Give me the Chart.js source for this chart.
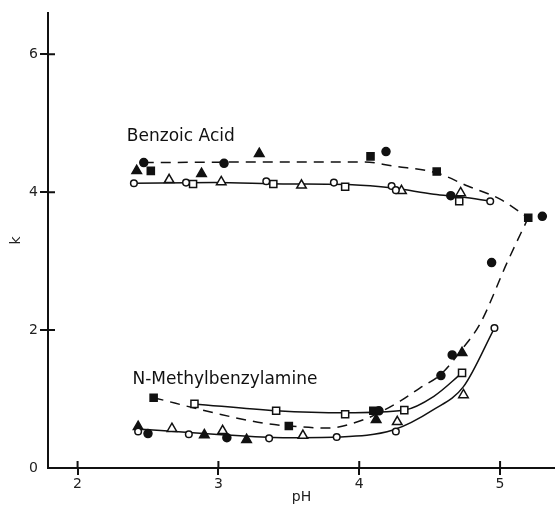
<!DOCTYPE html>
<html>
<head>
<meta charset="utf-8">
<script src="https://cdn.jsdelivr.net/npm/chart.js@4.4.0/dist/chart.umd.min.js"></script>
<style>
  html, body { margin: 0; background: #fff; }
  #wrap { width: 555px; height: 508px; }
</style>
</head>
<body>
<div id="wrap"><canvas id="c" width="555" height="508"></canvas></div>
<script>
// axis ticks
const xTicks = [2, 3, 4, 5];
const yTicks = [0, 2, 4, 6];

// Benzoic acid, measured points [pH, k]
const benzOpenCircle   = [[2.40, 4.13], [2.77, 4.14], [3.34, 4.16], [3.82, 4.14], [4.23, 4.09], [4.26, 4.03], [4.93, 3.87]];
const benzOpenSquare   = [[2.82, 4.12], [3.39, 4.12], [3.90, 4.08], [4.71, 3.87]];
const benzOpenTriangle = [[2.65, 4.18], [3.02, 4.15], [3.59, 4.10], [4.30, 4.02], [4.72, 3.99]];
const benzFillCircle   = [[2.47, 4.43], [3.04, 4.42], [4.19, 4.59], [4.65, 3.95], [5.30, 3.65]];
const benzFillSquare   = [[2.52, 4.31], [4.08, 4.52], [4.55, 4.30], [5.20, 3.63]];
const benzFillTriangle = [[2.42, 4.31], [2.88, 4.27], [3.29, 4.56]];
// Benzoic acid, drawn curves
const benzSolidCurve  = [[2.40, 4.13], [2.97, 4.14], [3.46, 4.12], [3.95, 4.11], [4.24, 4.06], [4.53, 3.97], [4.73, 3.93], [4.93, 3.87]];
const benzDashedCurve = [[2.47, 4.43], [3.46, 4.44], [4.04, 4.44], [4.24, 4.38], [4.55, 4.28], [4.77, 4.09], [5.00, 3.90], [5.20, 3.63]];

// N-Methylbenzylamine, measured points [pH, k]
const nmbOpenCircle   = [[2.43, 0.53], [2.79, 0.49], [3.36, 0.43], [3.84, 0.45], [4.26, 0.53], [4.96, 2.03]];
const nmbOpenSquare   = [[2.83, 0.93], [3.41, 0.83], [3.90, 0.78], [4.32, 0.84], [4.73, 1.38]];
const nmbOpenTriangle = [[2.67, 0.57], [3.03, 0.54], [3.60, 0.47], [4.27, 0.67], [4.74, 1.06]];
const nmbFillCircle   = [[2.50, 0.50], [3.06, 0.44], [4.14, 0.83], [4.58, 1.34], [4.66, 1.64], [4.94, 2.98]];
const nmbFillSquare   = [[2.54, 1.02], [3.50, 0.61], [4.10, 0.83]];
const nmbFillTriangle = [[2.43, 0.60], [2.90, 0.48], [3.20, 0.41], [4.12, 0.70], [4.73, 1.67]];
// N-Methylbenzylamine, drawn curves
const nmbUpperCurve  = [[2.83, 0.93], [3.41, 0.83], [3.90, 0.80], [4.32, 0.84], [4.53, 1.04], [4.73, 1.38]];
const nmbLowerCurve  = [[2.40, 0.57], [2.97, 0.49], [3.46, 0.44], [3.85, 0.45], [4.24, 0.55], [4.53, 0.85], [4.74, 1.18], [4.96, 2.03]];
const nmbDashedCurve = [[2.54, 1.02], [2.99, 0.79], [3.32, 0.65], [3.50, 0.61], [3.77, 0.58], [4.03, 0.70], [4.29, 0.97], [4.43, 1.16], [4.58, 1.36], [4.74, 1.75], [4.86, 2.10], [5.05, 2.98], [5.20, 3.63]];

// curve labels, anchored in data units
const labels = [
  { text: 'Benzoic Acid', x: 2.35, y: 4.81 },
  { text: 'N-Methylbenzylamine', x: 2.39, y: 1.28 }
];

const pts = arr => arr.map(([x, y]) => ({ x, y }));

const marker = (data, style, filled) => ({
  type: 'scatter',
  data: pts(data),
  pointStyle: style,
  pointRadius: style === 'circle' ? (filled ? 4 : 3.3) : (style === 'rect' ? 5 : 5.5),
  backgroundColor: filled ? '#111' : '#fff',
  borderColor: '#111',
  borderWidth: 1.5,
  order: 0
});

const curve = (data, dashed) => ({
  type: 'line',
  data: pts(data),
  borderColor: '#111',
  borderWidth: 1.5,
  borderDash: dashed ? [10, 7] : [],
  pointRadius: 0,
  cubicInterpolationMode: 'monotone',
  fill: false,
  order: 1
});

const innerTicks = {
  id: 'innerTicks',
  afterDraw(chart) {
    const { ctx, chartArea, scales } = chart;
    ctx.save();
    ctx.strokeStyle = '#111';
    ctx.lineWidth = 2;
    ctx.beginPath();
    xTicks.forEach(v => {
      const px = scales.x.getPixelForValue(v);
      ctx.moveTo(px, chartArea.bottom);
      ctx.lineTo(px, chartArea.bottom - 7);
    });
    yTicks.filter(v => v > 0).forEach(v => {
      const py = scales.y.getPixelForValue(v);
      ctx.moveTo(chartArea.left, py);
      ctx.lineTo(chartArea.left + 7, py);
    });
    ctx.stroke();
    ctx.fillStyle = '#111';
    ctx.font = '17px "DejaVu Sans"';
    ctx.textBaseline = 'middle';
    labels.forEach(l => {
      ctx.fillText(l.text, scales.x.getPixelForValue(l.x), scales.y.getPixelForValue(l.y));
    });
    ctx.restore();
  }
};

new Chart(document.getElementById('c'), {
  data: {
    datasets: [
      curve(benzSolidCurve, false),
      curve(benzDashedCurve, true),
      curve(nmbUpperCurve, false),
      curve(nmbLowerCurve, false),
      curve(nmbDashedCurve, true),
      marker(benzOpenCircle, 'circle', false),
      marker(benzOpenSquare, 'rect', false),
      marker(benzOpenTriangle, 'triangle', false),
      marker(benzFillCircle, 'circle', true),
      marker(benzFillSquare, 'rect', true),
      marker(benzFillTriangle, 'triangle', true),
      marker(nmbOpenCircle, 'circle', false),
      marker(nmbOpenSquare, 'rect', false),
      marker(nmbOpenTriangle, 'triangle', false),
      marker(nmbFillCircle, 'circle', true),
      marker(nmbFillSquare, 'rect', true),
      marker(nmbFillTriangle, 'triangle', true)
    ]
  },
  options: {
    responsive: false,
    animation: false,
    layout: { autoPadding: false, padding: { top: 13, right: 0, bottom: 0, left: 0 } },
    plugins: { legend: { display: false }, tooltip: { enabled: false } },
    scales: {
      x: {
        type: 'linear',
        min: 1.79, max: 5.39,
        afterBuildTicks: s => { s.ticks = xTicks.map(v => ({ value: v })); },
        afterFit: s => { s.height = 40; s.paddingRight = 0; s.paddingLeft = 0; },
        grid: { drawOnChartArea: false, tickLength: 7, color: '#111', lineWidth: 2 },
        border: { color: '#111', width: 2 },
        ticks: { color: '#222', font: { family: 'DejaVu Sans', size: 14 }, padding: 1, maxRotation: 0 },
        title: { display: true, text: 'pH', color: '#222', font: { family: 'DejaVu Sans', size: 14 }, padding: { top: 0, bottom: 2 } }
      },
      y: {
        type: 'linear',
        min: 0, max: 6.6,
        afterBuildTicks: s => { s.ticks = yTicks.map(v => ({ value: v })); },
        afterFit: s => { s.width = 48; },
        grid: {
          drawOnChartArea: false, tickLength: 8, lineWidth: 2,
          color: c => (c.tick && c.tick.value === 0 ? 'rgba(0,0,0,0)' : '#111')
        },
        border: { color: '#111', width: 2 },
        ticks: { color: '#222', font: { family: 'DejaVu Sans', size: 14 }, padding: 2 },
        title: { display: true, text: 'k', color: '#222', font: { family: 'DejaVu Sans', size: 14 }, padding: { top: 8, bottom: 0 } }
      }
    }
  },
  plugins: [innerTicks]
});
</script>
</body>
</html>
